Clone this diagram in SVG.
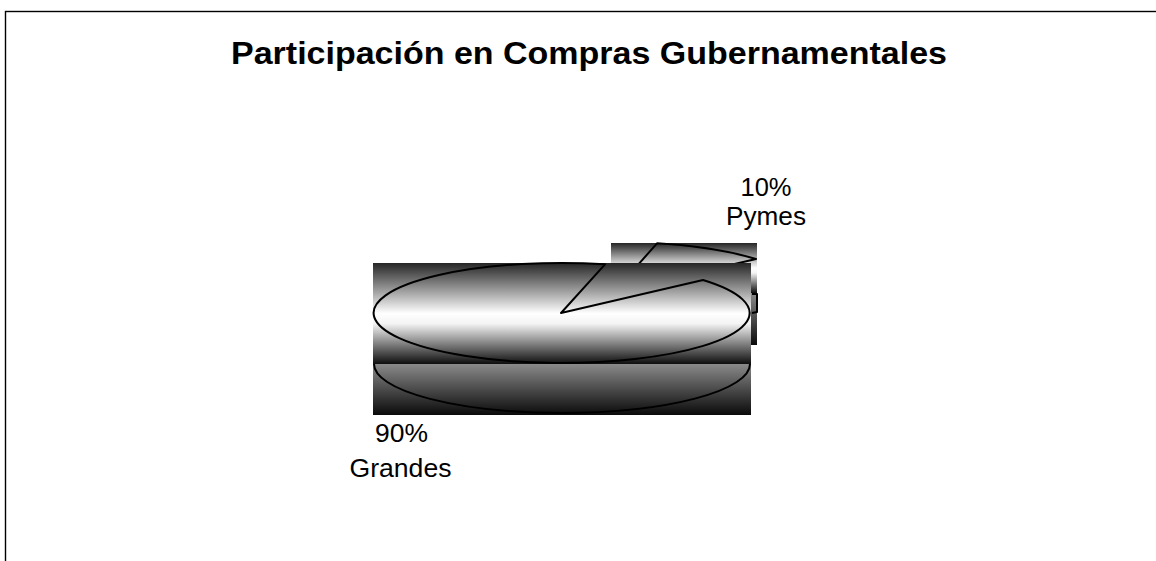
<svg xmlns="http://www.w3.org/2000/svg" width="1156" height="561" viewBox="0 0 1156 561">
  <defs>
    <linearGradient id="topFace" x1="0" y1="0" x2="0" y2="1">
      <stop offset="0" stop-color="#262626"/>
      <stop offset="0.5" stop-color="#ffffff"/>
      <stop offset="0.6" stop-color="#f4f4f4"/>
      <stop offset="1" stop-color="#0e0e0e"/>
    </linearGradient>
    <linearGradient id="sideFace" x1="0" y1="0" x2="0" y2="1">
      <stop offset="0" stop-color="#8a8a8a"/>
      <stop offset="1" stop-color="#0a0a0a"/>
    </linearGradient>
  </defs>
  <style>
    .outline { fill: none; stroke: #000; stroke-width: 2; stroke-linejoin: round; }
    .label { font-family: "Liberation Sans", Arial, sans-serif; font-size: 25px; fill: #000; text-anchor: middle; }
    .title { font-family: "Liberation Sans", Arial, sans-serif; font-size: 32px; font-weight: bold; fill: #000; text-anchor: middle; }
  </style>
  <rect width="1156" height="561" fill="#ffffff"/>
  <g id="frame">
    <rect x="5.5" y="11.5" width="1200" height="600" fill="none" stroke="#000" stroke-width="1.4"/>
  </g>
  <g id="title">
    <text class="title" x="589" y="64" textLength="716" lengthAdjust="spacingAndGlyphs">Participación en Compras Gubernamentales</text>
  </g>
  <g id="slice-pymes">
    <rect x="611" y="243" width="146" height="50" fill="url(#topFace)"/>
    <rect x="611" y="293" width="146" height="52" fill="url(#sideFace)"/>
    <path class="outline" d="M614,292 L657,243.3 A188,50 0 0 1 756,259 Z"/>
    <polyline class="outline" points="752,294 757,294 757,312 752,313"/>
  </g>
  <g id="slice-grandes">
    <rect x="373" y="263" width="378" height="101" fill="url(#topFace)"/>
    <rect x="373" y="364" width="378" height="51" fill="url(#sideFace)"/>
    <path class="outline" d="M561,313 L605,264.3 A188,50 0 1 0 703,280 Z"/>
    <path class="outline" d="M374,364 A188,49 0 0 0 750,364"/>
  </g>
  <g id="labels">
    <text class="label" x="766" y="196" textLength="51" lengthAdjust="spacingAndGlyphs">10%</text>
    <text class="label" x="766" y="225" textLength="80" lengthAdjust="spacingAndGlyphs">Pymes</text>
    <text class="label" x="401.5" y="442" textLength="53" lengthAdjust="spacingAndGlyphs">90%</text>
    <text class="label" x="400.5" y="477" textLength="102" lengthAdjust="spacingAndGlyphs">Grandes</text>
  </g>
</svg>
